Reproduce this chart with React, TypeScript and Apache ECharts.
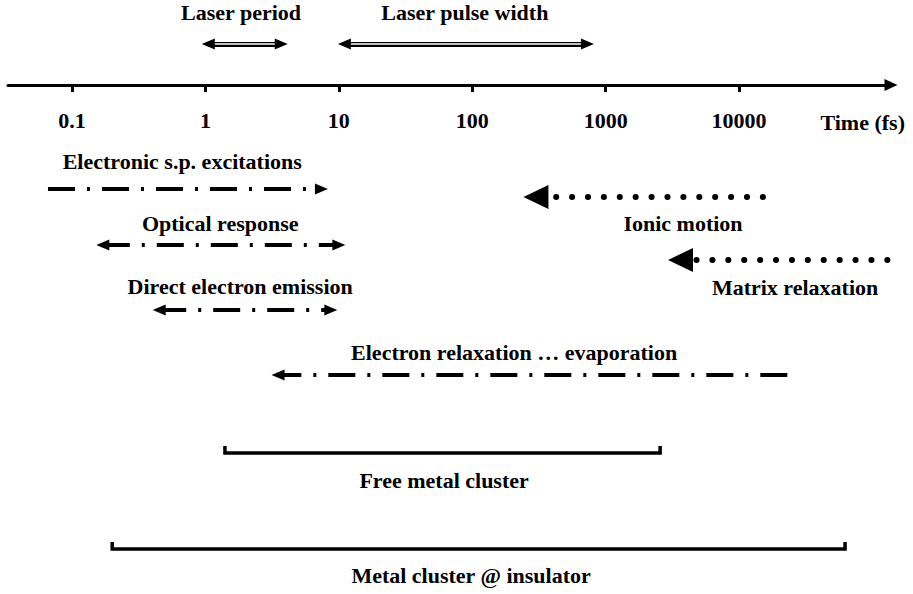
import React, { useEffect, useRef } from "react";
import * as echarts from "echarts";

// ---- data (times in fs) ----
const TICK_VALUES = [0.1, 1, 10, 100, 1000, 10000];
const TICK_LABELS = ["0.1", "1", "10", "100", "1000", "10000"];
const AXIS_RANGE = [0.0331, 137700];
const AXIS_NAME = "Time (fs)";

const PROCESS_NAMES = [
  "Laser period",
  "Laser pulse width",
  "Electronic s.p. excitations",
  "Optical response",
  "Direct electron emission",
  "Electron relaxation \u2026 evaporation",
  "Ionic motion",
  "Matrix relaxation",
];
const PROCESS_FROM = [1.05, 11, 0.066, 0.17, 0.45, 3.5, 300, 3640];
const PROCESS_TO = [3.7, 730, 7.4, 10, 8.7, 23000, 15100, 224000];
const PROCESS_LABEL_AT = [1.85, 88, 0.67, 1.29, 1.82, 206, 3800, 26300];
// which ends carry an arrowhead
const PROCESS_HEADS = ["both", "both", "to", "both", "both", "from", "from", "from"];
const PROCESS_KIND = ["double", "double", "dashdot", "dashdot", "dashdot", "dashdot", "dotted", "dotted"];

const SYSTEM_NAMES = ["Free metal cluster", "Metal cluster @ insulator"];
const SYSTEM_FROM = [1.4, 0.2];
const SYSTEM_TO = [2560, 62300];
const SYSTEM_LABEL_AT = [61.5, 98];

// ---- layout (vertical offsets from the time axis, px) ----
const LAYOUT = {
  above: 85,
  below: 509,
  processRow: [-41, -41, 104, 160, 225, 290, 112, 175],
  processLabelRow: [-73, -73, 76, 138, 201, 267, 138, 202],
  systemRow: [368, 464],
  systemLabelRow: [395, 490],
  bracketTick: 7,
};

const FONT = "'Liberation Serif', 'Times New Roman', Times, serif";
const L = (v: number) => Math.log10(v);

function markSeries(markData: any[], lineStyle: any, z: number) {
  return {
    type: "line",
    xAxisIndex: 1,
    yAxisIndex: 1,
    data: [],
    z,
    silent: true,
    clip: false,
    markLine: {
      silent: true,
      animation: false,
      symbol: ["none", "none"],
      label: { show: false },
      emphasis: { disabled: true },
      lineStyle,
      data: markData,
    },
  };
}

export default function App() {
  const ref = useRef<HTMLDivElement>(null);

  useEffect(() => {
    if (!ref.current) return;
    const chart = echarts.init(ref.current, undefined, { renderer: "svg" });

    const series: any[] = [];

    PROCESS_NAMES.forEach((_, i) => {
      const y = LAYOUT.processRow[i];
      const heads = PROCESS_HEADS[i];
      const kind = PROCESS_KIND[i];
      const from = PROCESS_FROM[i];
      const to = PROCESS_TO[i];
      if (kind === "double") {
        const size = [11, 13];
        series.push(markSeries([[{ coord: [L(from), y] }, { coord: [L(to), y] }]], { color: "#000", width: 5, type: "solid" }, 2));
        series.push(markSeries([[{ coord: [L(from), y] }, { coord: [L(to), y] }]], { color: "#fff", width: 1.6, type: "solid" }, 3));
        series.push(
          markSeries(
            [[
              { coord: [L(from), y], symbol: "triangle", symbolSize: size },
              { coord: [L(to), y], symbol: "triangle", symbolSize: size },
            ]],
            { color: "#000", width: 0, type: "solid" },
            4
          )
        );
      } else if (kind === "dashdot") {
        const size = [11, 13];
        // start the pattern at the plain end
        const startAtTo = heads === "from";
        const a = startAtTo ? to : from;
        const b = startAtTo ? from : to;
        series.push(
          markSeries(
            [[
              { coord: [L(a), y], symbol: heads === "both" ? "triangle" : "none", symbolSize: size },
              { coord: [L(b), y], symbol: "triangle", symbolSize: size },
            ]],
            { color: "#000", width: 4, type: [27, 12, 3, 12], cap: "butt" },
            2
          )
        );
      } else {
        // dotted: dots drawn as a line series (may run off the page), head as a marker
        series.push({
          type: "line",
          xAxisIndex: 1,
          yAxisIndex: 1,
          silent: true,
          clip: false,
          symbol: "none",
          z: 2,
          lineStyle: { color: "#000", width: 6, type: [0.1, 15.8], cap: "round" },
          data: [
            [L(to), y],
            [L(from), y],
          ],
        });
        series.push(
          markSeries(
            [[
              { coord: [L(from) + 0.1, y], symbol: "none" },
              { coord: [L(from), y], symbol: "triangle", symbolSize: [24, 25] },
            ]],
            { color: "#000", width: 0, type: "solid" },
            4
          )
        );
      }
    });

    SYSTEM_NAMES.forEach((_, i) => {
      const base = LAYOUT.systemRow[i];
      const top = base - LAYOUT.bracketTick;
      series.push({
        type: "line",
        xAxisIndex: 1,
        yAxisIndex: 1,
        silent: true,
        clip: false,
        symbol: "none",
        lineStyle: { color: "#000", width: 3.5, cap: "butt", join: "miter" },
        data: [
          [L(SYSTEM_FROM[i]), top],
          [L(SYSTEM_FROM[i]), base],
          [L(SYSTEM_TO[i]), base],
          [L(SYSTEM_TO[i]), top],
        ],
      });
    });

    const labelData = [
      ...PROCESS_NAMES.map((n, i) => [L(PROCESS_LABEL_AT[i]), LAYOUT.processLabelRow[i], n]),
      ...SYSTEM_NAMES.map((n, i) => [L(SYSTEM_LABEL_AT[i]), LAYOUT.systemLabelRow[i], n]),
    ];
    series.push({
      type: "scatter",
      xAxisIndex: 1,
      yAxisIndex: 1,
      silent: true,
      clip: false,
      symbolSize: 0,
      itemStyle: { color: "#000" },
      z: 5,
      label: {
        show: true,
        position: "inside",
        align: "center",
        verticalAlign: "middle",
        formatter: (p: any) => p.data[2],
        color: "#000",
        opacity: 1,
        textBorderWidth: 0,
        fontSize: 22,
        fontWeight: "bold",
        fontFamily: FONT,
      },
      data: labelData,
    });

    const tickLogs = TICK_VALUES.map(L);
    const xMin = L(AXIS_RANGE[0]);
    const xMax = L(AXIS_RANGE[1]);

    chart.setOption({
      animation: false,
      backgroundColor: "#fff",
      grid: [
        { left: 8, right: 22, top: 0, height: LAYOUT.above, containLabel: false, outerBoundsMode: "none" },
        { left: 8, right: 22, top: 0, bottom: 0, containLabel: false, outerBoundsMode: "none" },
      ],
      xAxis: [
        {
          gridIndex: 0,
          type: "value",
          position: "bottom",
          min: xMin,
          max: xMax,
          axisLine: {
            show: true,
            onZero: false,
            symbol: ["none", "triangle"],
            symbolSize: [12, 13],
            lineStyle: { color: "#000", width: 3 },
          },
          axisTick: {
            show: true,
            customValues: tickLogs,
            length: 7,
            lineStyle: { color: "#000", width: 3 },
          },
          axisLabel: {
            show: true,
            customValues: tickLogs,
            margin: 24,
            formatter: (v: number) => {
              const idx = tickLogs.findIndex((t) => Math.abs(t - v) < 1e-6);
              return idx >= 0 ? TICK_LABELS[idx] : "";
            },
            color: "#000",
            fontSize: 22,
            fontWeight: "bold",
            fontFamily: FONT,
          },
          splitLine: { show: false },
          name: AXIS_NAME,
          nameLocation: "end",
          nameGap: 14,
          nameTextStyle: {
            align: "right",
            verticalAlign: "top",
            padding: [26, 0, 0, 0],
            color: "#000",
            fontSize: 22,
            fontWeight: "bold",
            fontFamily: FONT,
          },
        },
        {
          gridIndex: 1,
          type: "value",
          min: xMin,
          max: xMax,
          show: false,
        },
      ],
      yAxis: [
        { gridIndex: 0, type: "value", min: 0, max: 1, show: false },
        {
          gridIndex: 1,
          type: "value",
          inverse: true,
          min: -LAYOUT.above,
          max: LAYOUT.below,
          show: false,
        },
      ],
      series,
    });

    return () => chart.dispose();
  }, []);

  return (
    <div
      ref={ref}
      style={{ position: "absolute", left: 0, top: 0, width: 913, height: 594 }}
    />
  );
}
